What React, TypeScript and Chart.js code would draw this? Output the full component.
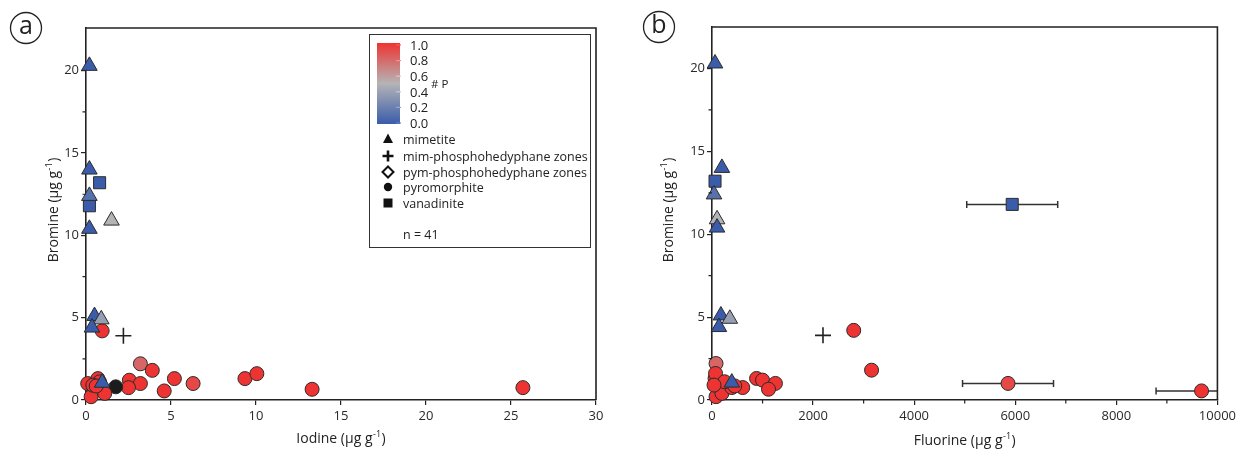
import React, { useEffect, useRef } from "react";
import { Chart, registerables } from "chart.js";

Chart.register(...registerables);

const FONT = "'Open Sans', 'DejaVu Sans', sans-serif";

// ---- data (one entry per sample) ----
const mineral = [
  "mimetite", "mimetite", "vanadinite", "mimetite", "vanadinite", "mimetite", "mimetite", "mimetite", "mimetite", "mimetite",
  "pyromorphite", "mim-phosphohedyphane zones", "pyromorphite", "pyromorphite", "pyromorphite", "pyromorphite", "pyromorphite",
  "pyromorphite", "pyromorphite", "pyromorphite", "pyromorphite", "mimetite", "pyromorphite", "pyromorphite", "pyromorphite",
  "pyromorphite", "pyromorphite", "pyromorphite", "pyromorphite", "pyromorphite", "pyromorphite", "pyromorphite", "pyromorphite",
];
const bromine = [
  20.3, 14.0, 13.2, 12.4, 11.8, 10.9, 10.4, 5.1, 4.9, 4.4,
  4.2, 3.9, 2.2, 1.8, 1.3, 1.0, 0.55, 1.2, 1.0, 0.75, 0.8, 1.05, 1.0, 0.2, 1.3,
  0.4, 1.3, 1.6, 0.65, 0.75, 1.1, 0.9, 0.85,
];
const iodine = [
  0.2, 0.2, 0.8, 0.2, 0.2, 1.5, 0.2, 0.5, 0.9, 0.35,
  0.95, 2.2, 3.2, 3.9, 5.2, 6.3, 4.6, 2.55, 3.2, 2.5, 1.75, 0.95, 0.1, 0.3, 0.7,
  1.1, 9.35, 10.05, 13.3, 25.7, 0.8, 0.4, 0.6,
];
const fluorine = [
  60, 196, 60, 40, 5940, 100, 100, 176, 353, 137,
  2804, 2196, 80, 3157, 882, 5857, 9686, 1000, 1255, 608, 150, 392, 80, 80, 80,
  196, 60, 70, 1118, 392, 250, 40, 450,
];
const fluorineErr = [
  null, null, null, null, 900, null, null, null, null, null,
  null, null, null, null, null, 900, 900, null, null, null, null, null, null, null, null,
  null, null, null, null, null, null, null, null,
];
// #P (null = not determined)
const phosphorus = [
  0, 0, 0, 0.12, 0, 0.5, 0, 0, 0.38, 0,
  1, null, 0.8, 1, 1, 0.92, 1, 1, 1, 1, null, 0, 1, 1, 1,
  1, 1, 1, 1, 1, 1, 1, 1,
];

const bromineTicks = [0, 5, 10, 15, 20];
const bromineMinor = [2.5, 7.5, 12.5, 17.5];
const iodineTicks = [0, 5, 10, 15, 20, 25, 30];
const iodineMinor: number[] = [];
const fluorineTicks = [0, 2000, 4000, 6000, 8000, 10000];
const fluorineMinor = [1000, 3000, 5000, 7000, 9000];
const colorbarTicks = [1.0, 0.8, 0.6, 0.4, 0.2, 0.0];
const legendLabels = ["mimetite", "mim-phosphohedyphane zones", "pym-phosphohedyphane zones", "pyromorphite", "vanadinite"];
const sampleCount = "n = 41";

function mix(p: number): number[] {
  const lo = [58, 92, 170], mid = [180, 180, 182], hi = [238, 52, 50];
  let a = lo, b = mid, t = p / 0.5;
  if (p > 0.5) { a = mid; b = hi; t = (p - 0.5) / 0.5; }
  return a.map((v, i) => Math.round(v + (b[i] - v) * t));
}
function pColor(p: number | null): string {
  if (p === null) return "#1c1c1c";
  const c = mix(p);
  return `rgb(${c[0]},${c[1]},${c[2]})`;
}

const styleOf: Record<string, { pointStyle: string; radius: number; order: number }> = {
  "mim-phosphohedyphane zones": { pointStyle: "cross", radius: 8, order: 0 },
  mimetite: { pointStyle: "triangle", radius: 9, order: 1 },
  vanadinite: { pointStyle: "rect", radius: 8.5, order: 2 },
  pyromorphite: { pointStyle: "circle", radius: 7, order: 4 },
};

function buildDatasets(xs: (number | null)[]) {
  return Object.keys(styleOf).map((kind) => {
    const idx = mineral.map((m, i) => (m === kind && xs[i] != null ? i : -1)).filter((i) => i >= 0);
    const st = styleOf[kind];
    const isCross = kind === "mim-phosphohedyphane zones";
    return {
      label: kind,
      data: idx.map((i) => ({ x: xs[i] as number, y: bromine[i] })),
      pointStyle: st.pointStyle,
      pointRadius: st.radius,
      pointBackgroundColor: idx.map((i) => pColor(phosphorus[i])),
      pointBorderColor: isCross ? "#222" : "#2b2b2b",
      pointBorderWidth: isCross ? 1.6 : 1,
      order: st.order,
      clip: false,
      showLine: false,
    };
  });
}

function drawUnitTitle(ctx: CanvasRenderingContext2D, prefix: string, x: number, y: number, rotate: boolean) {
  const mainFont = `14px ${FONT}`;
  const supFont = `9px ${FONT}`;
  ctx.save();
  ctx.translate(x, y);
  if (rotate) ctx.rotate(-Math.PI / 2);
  ctx.fillStyle = "#222";
  ctx.textBaseline = "alphabetic";
  ctx.textAlign = "left";
  ctx.font = mainFont;
  const p1 = prefix + " (μg g";
  const w1 = ctx.measureText(p1).width;
  const w3 = ctx.measureText(")").width;
  ctx.font = supFont;
  const w2 = ctx.measureText("-1").width;
  const total = w1 + w2 + w3 + 1;
  let cx = -total / 2;
  const base = 5;
  ctx.font = mainFont;
  ctx.fillText(p1, cx, base);
  cx += w1 + 0.5;
  ctx.font = supFont;
  ctx.fillText("-1", cx, base - 6);
  cx += w2 + 0.5;
  ctx.font = mainFont;
  ctx.fillText(")", cx, base);
  ctx.restore();
}

function drawLegend(ctx: CanvasRenderingContext2D) {
  ctx.save();
  // box
  ctx.strokeStyle = "#333";
  ctx.lineWidth = 1;
  ctx.strokeRect(369.5, 34.5, 221, 213);
  // colour bar
  const top = 43, bot = 124, l = 377, r = 400;
  const g = ctx.createLinearGradient(0, bot, 0, top);
  for (let i = 0; i <= 10; i++) g.addColorStop(i / 10, pColor(i / 10));
  ctx.fillStyle = g;
  ctx.fillRect(l, top, r - l, bot - top);
  ctx.font = `13px ${FONT}`;
  ctx.textBaseline = "middle";
  ctx.textAlign = "left";
  colorbarTicks.forEach((v) => {
    const y = bot - 1 - v * (bot - top - 3);
    const c = mix(v).map((k) => Math.min(255, k + 40));
    ctx.strokeStyle = `rgb(${c[0]},${c[1]},${c[2]})`;
    ctx.lineWidth = 1.2;
    ctx.beginPath();
    ctx.moveTo(r - 4, y);
    ctx.lineTo(r + 1, y);
    ctx.stroke();
    ctx.fillStyle = "#222";
    ctx.fillText(v.toFixed(1), 410, y + 1);
  });
  ctx.font = `11.5px ${FONT}`;
  ctx.fillText("# P", 431, 85);
  // symbols
  const ys = [139, 156, 172, 187, 203];
  const sx = 388;
  ctx.fillStyle = "#111";
  ctx.strokeStyle = "#111";
  // triangle
  ctx.beginPath();
  ctx.moveTo(sx, ys[0] - 5.5);
  ctx.lineTo(sx + 5, ys[0] + 4);
  ctx.lineTo(sx - 5, ys[0] + 4);
  ctx.closePath();
  ctx.fill();
  // cross
  ctx.lineWidth = 2.6;
  ctx.beginPath();
  ctx.moveTo(sx - 5.5, ys[1]);
  ctx.lineTo(sx + 5.5, ys[1]);
  ctx.moveTo(sx, ys[1] - 5.5);
  ctx.lineTo(sx, ys[1] + 5.5);
  ctx.stroke();
  // diamond
  ctx.lineWidth = 2;
  ctx.beginPath();
  ctx.moveTo(sx, ys[2] - 5.5);
  ctx.lineTo(sx + 5.5, ys[2]);
  ctx.lineTo(sx, ys[2] + 5.5);
  ctx.lineTo(sx - 5.5, ys[2]);
  ctx.closePath();
  ctx.stroke();
  // circle
  ctx.beginPath();
  ctx.arc(sx, ys[3], 4.2, 0, Math.PI * 2);
  ctx.fill();
  // square
  ctx.fillRect(sx - 4.5, ys[4] - 4.5, 9, 9);
  ctx.fillStyle = "#222";
  ctx.font = `12.5px ${FONT}`;
  legendLabels.forEach((t, i) => ctx.fillText(t, 403, ys[i] + 1));
  ctx.fillText(sampleCount, 403, 235);
  ctx.restore();
}

function makeConfig(panel: "a" | "b"): any {
  const isA = panel === "a";
  const xs = isA ? iodine : fluorine;
  const xTicks = isA ? iodineTicks : fluorineTicks;
  const xMinor = isA ? iodineMinor : fluorineMinor;
  const tickFont = { family: FONT, size: 13 };

  const decor = {
    id: "decor" + panel,
    beforeDatasetsDraw(chart: any) {
      if (isA) return;
      const { ctx, chartArea: a } = chart;
      const xs2 = chart.scales.x, ys2 = chart.scales.y;
      ctx.save();
      ctx.beginPath();
      ctx.rect(a.left, a.top - 10, a.right - a.left, a.bottom - a.top + 10);
      ctx.clip();
      ctx.strokeStyle = "#333";
      ctx.lineWidth = 1.5;
      fluorine.forEach((f, i) => {
        const e = fluorineErr[i];
        if (e == null) return;
        const y = ys2.getPixelForValue(bromine[i]);
        const x1 = xs2.getPixelForValue(f - e);
        const x2 = xs2.getPixelForValue(f + e);
        ctx.beginPath();
        ctx.moveTo(x1, y);
        ctx.lineTo(x2, y);
        ctx.moveTo(x1, y - 3.5);
        ctx.lineTo(x1, y + 3.5);
        ctx.moveTo(x2, y - 3.5);
        ctx.lineTo(x2, y + 3.5);
        ctx.stroke();
      });
      ctx.restore();
    },
    afterDraw(chart: any) {
      const { ctx, chartArea: a } = chart;
      const xS = chart.scales.x, yS = chart.scales.y;
      ctx.save();
      // top and right frame
      ctx.strokeStyle = "#222";
      ctx.lineWidth = 1.6;
      ctx.beginPath();
      ctx.moveTo(a.left, a.top);
      ctx.lineTo(a.right, a.top);
      ctx.lineTo(a.right, a.bottom);
      ctx.stroke();
      // minor ticks
      ctx.lineWidth = 1.2;
      ctx.beginPath();
      bromineMinor.forEach((v) => {
        const y = yS.getPixelForValue(v);
        ctx.moveTo(a.left - 3.5, y);
        ctx.lineTo(a.left, y);
      });
      xMinor.forEach((v) => {
        const x = xS.getPixelForValue(v);
        ctx.moveTo(x, a.bottom);
        ctx.lineTo(x, a.bottom + 3.5);
      });
      ctx.stroke();
      // panel letter
      const cx = isA ? 26 : 39, cy = isA ? 28 : 27;
      ctx.lineWidth = 1.3;
      ctx.beginPath();
      ctx.arc(cx, cy, 15.5, 0, Math.PI * 2);
      ctx.stroke();
      ctx.fillStyle = "#222";
      ctx.font = `25px ${FONT}`;
      ctx.textAlign = "center";
      ctx.textBaseline = "middle";
      ctx.fillText(panel, cx, cy - 1);
      ctx.restore();
      // axis titles
      drawUnitTitle(ctx, isA ? "Iodine" : "Fluorine", (a.left + a.right) / 2, isA ? 438 : 440, false);
      drawUnitTitle(ctx, "Bromine", isA ? 53 : 48, 210, true);
      if (isA) drawLegend(ctx);
    },
  };

  return {
    type: "scatter",
    data: { datasets: buildDatasets(xs) },
    options: {
      responsive: false,
      animation: false,
      events: [],
      layout: { padding: { left: 0, right: isA ? 24 : 17, top: isA ? 28 : 27, bottom: 0 } },
      plugins: { legend: { display: false }, tooltip: { enabled: false } },
      scales: {
        x: {
          type: "linear",
          min: 0,
          max: isA ? 30 : 10000,
          afterBuildTicks: (s: any) => {
            s.ticks = xTicks.map((v) => ({ value: v }));
          },
          afterFit: (s: any) => {
            s.height = 50;
          },
          grid: { display: true, drawOnChartArea: false, drawTicks: true, tickLength: 5, color: "#222", lineWidth: 1.2 },
          border: { display: true, color: "#222", width: 1.6 },
          ticks: { font: tickFont, color: "#2a2a2a", padding: 3, maxRotation: 0, autoSkip: false, callback: (v: any) => String(v) },
        },
        y: {
          type: "linear",
          min: 0,
          max: isA ? 22.6 : 22.5,
          afterBuildTicks: (s: any) => {
            s.ticks = bromineTicks.map((v) => ({ value: v }));
          },
          afterFit: (s: any) => {
            s.width = isA ? 86 : 92;
          },
          grid: { display: true, drawOnChartArea: false, drawTicks: true, tickLength: 5, color: "#222", lineWidth: 1.2 },
          border: { display: true, color: "#222", width: 1.6 },
          ticks: { font: tickFont, color: "#2a2a2a", padding: 2, autoSkip: false, callback: (v: any) => String(v) },
        },
      },
    },
    plugins: [decor],
  };
}

export default function App() {
  const refA = useRef<HTMLCanvasElement>(null);
  const refB = useRef<HTMLCanvasElement>(null);
  useEffect(() => {
    const a = new Chart(refA.current as HTMLCanvasElement, makeConfig("a"));
    const b = new Chart(refB.current as HTMLCanvasElement, makeConfig("b"));
    return () => {
      a.destroy();
      b.destroy();
    };
  }, []);
  return (
    <div style={{ position: "absolute", left: 0, top: 0, width: 1239, height: 450, background: "#fff" }}>
      <canvas ref={refA} width={620} height={450} style={{ position: "absolute", left: 0, top: 0, width: 620, height: 450 }} />
      <canvas ref={refB} width={619} height={450} style={{ position: "absolute", left: 620, top: 0, width: 619, height: 450 }} />
    </div>
  );
}
